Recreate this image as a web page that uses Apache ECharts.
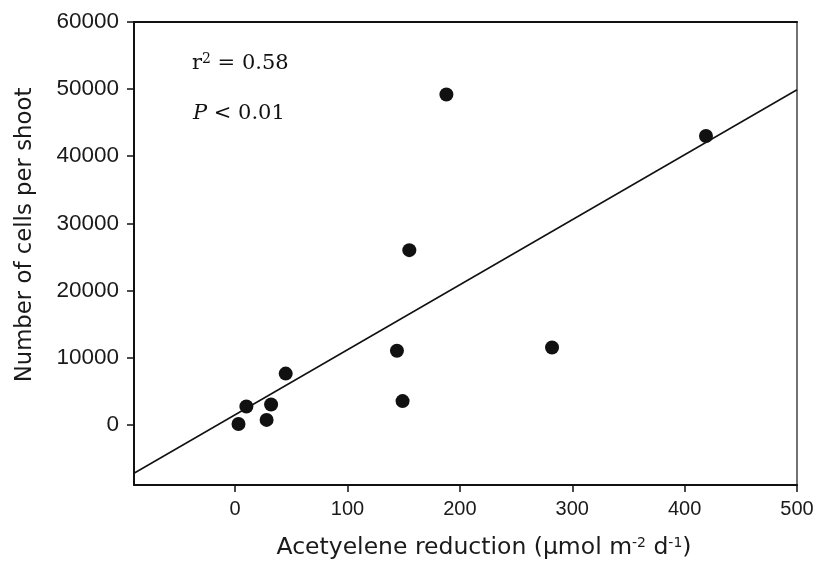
<!DOCTYPE html>
<html>
<head>
<meta charset="utf-8">
<script src="https://cdn.jsdelivr.net/npm/echarts@6/dist/echarts.min.js"></script>
<style>
html,body{margin:0;padding:0;background:#fff;}
#chart{width:827px;height:563px;}
</style>
</head>
<body>
<div id="chart"></div>
<script>
// Data
const xValues = [3, 10, 28, 32, 45, 144, 149, 155, 188, 282, 419];
const yValues = [100, 2700, 700, 3000, 7600, 11000, 3500, 26000, 49200, 11500, 43000];
const fitX = [-90, 500];
const fitY = [-7250, 49900];
const xTicks = [0, 100, 200, 300, 400, 500];
const yTicks = [0, 10000, 20000, 30000, 40000, 50000, 60000];
const xRange = [-90, 500];
const yRange = [-9000, 60000];

const points = xValues.map((x, i) => [x, yValues[i]]);
const fitLine = fitX.map((x, i) => [x, fitY[i]]);

const chart = echarts.init(document.getElementById('chart'));
const tickFont = 'Liberation Sans, Arial, sans-serif';
const titleFont = 'DejaVu Sans, sans-serif';
const serifFont = 'DejaVu Serif, serif';
chart.setOption({
  animation: false,
  backgroundColor: '#fff',
  grid: { left: 134, top: 22, right: 30, bottom: 78, containLabel: false },
  xAxis: [{
    type: 'value', min: xRange[0], max: xRange[1], position: 'bottom',
    splitLine: { show: false },
    axisLine: { show: true, onZero: false, lineStyle: { color: '#111', width: 2 } },
    axisTick: { show: true, inside: false, length: 7, customValues: xTicks, lineStyle: { color: '#111', width: 1.5 } },
    axisLabel: { customValues: xTicks, margin: 14, fontSize: 20, color: '#1a1a1a', fontFamily: tickFont,
      formatter: v => String(v) }
  }, {
    type: 'value', min: xRange[0], max: xRange[1], position: 'top',
    splitLine: { show: false },
    axisLine: { show: true, onZero: false, lineStyle: { color: '#111', width: 2 } },
    axisTick: { show: false }, axisLabel: { show: false }
  }],
  yAxis: [{
    type: 'value', min: yRange[0], max: yRange[1], position: 'left',
    splitLine: { show: false },
    axisLine: { show: true, onZero: false, lineStyle: { color: '#111', width: 2 } },
    axisTick: { show: true, inside: false, length: 7, customValues: yTicks, lineStyle: { color: '#111', width: 1.5 } },
    axisLabel: { customValues: yTicks, margin: 15, fontSize: 22.5, color: '#1a1a1a', fontFamily: tickFont,
      formatter: v => String(v) }
  }, {
    type: 'value', min: yRange[0], max: yRange[1], position: 'right',
    splitLine: { show: false },
    axisLine: { show: true, onZero: false, lineStyle: { color: '#444', width: 1.5 } },
    axisTick: { show: false }, axisLabel: { show: false }
  }],
  series: [{
    type: 'line', data: fitLine, xAxisIndex: 0, yAxisIndex: 0,
    showSymbol: false, symbol: 'none',
    lineStyle: { color: '#111', width: 1.5 }, z: 2
  }, {
    type: 'scatter', data: points, xAxisIndex: 0, yAxisIndex: 0,
    symbol: 'circle', symbolSize: 14,
    itemStyle: { color: '#111', opacity: 1 }, z: 3
  }],
  graphic: [{
    type: 'text', left: 192, top: 52,
    style: {
      text: '{a|r}{s|2}{a| = 0.58}',
      rich: {
        a: { fontFamily: serifFont, fontSize: 21, fill: '#111' },
        s: { fontFamily: serifFont, fontSize: 14, fill: '#111', verticalAlign: 'top', padding: [0, 0, 10, 0] }
      }
    }
  }, {
    type: 'text', left: 193, top: 103,
    style: {
      text: '{i|P}{a| < 0.01}',
      rich: {
        i: { fontFamily: serifFont, fontSize: 21, fontStyle: 'italic', fill: '#111' },
        a: { fontFamily: serifFont, fontSize: 21, fill: '#111' }
      }
    }
  }, {
    type: 'text', x: 25, y: 235, rotation: Math.PI / 2,
    style: {
      text: 'Number of cells per shoot',
      fontFamily: titleFont, fontSize: 22.8, fill: '#1a1a1a',
      align: 'center', verticalAlign: 'middle'
    }
  }, {
    type: 'text', x: 484, y: 548,
    style: {
      text: '{a|Acetyelene reduction (μmol m}{s|-2}{a| d}{s|-1}{a|)}',
      align: 'center', verticalAlign: 'middle',
      rich: {
        a: { fontFamily: titleFont, fontSize: 23.5, fill: '#1a1a1a' },
        s: { fontFamily: titleFont, fontSize: 14, fill: '#1a1a1a', verticalAlign: 'top', padding: [0, 0, 8, 0] }
      }
    }
  }]
});
</script>
</body>
</html>
